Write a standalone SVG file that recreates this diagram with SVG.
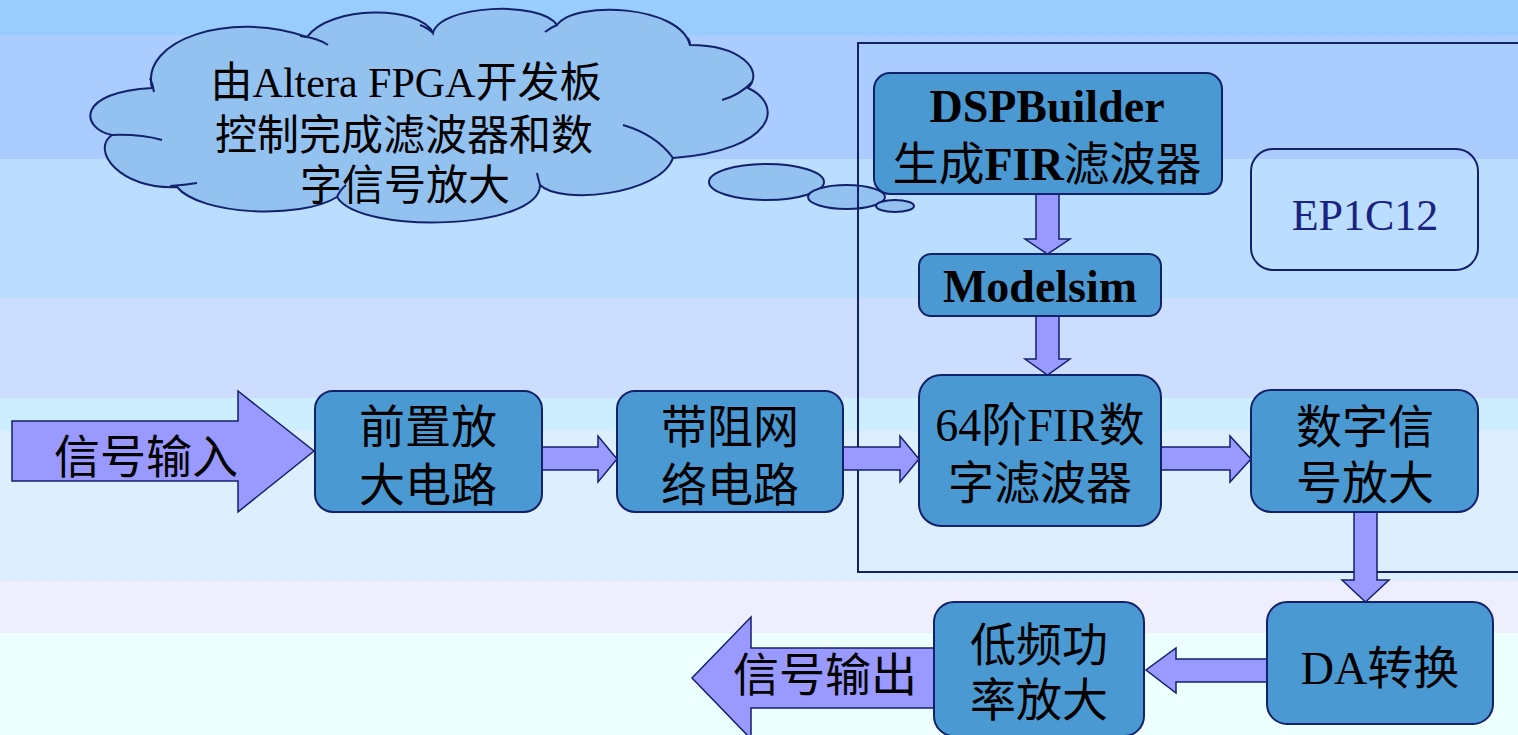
<svg xmlns="http://www.w3.org/2000/svg" width="1518" height="735" viewBox="0 0 1518 735">
<style>
.box{fill:#4b99d2;stroke:#13216b;stroke-width:2}
.arr{fill:#9999ff;stroke:#13216b;stroke-width:1.5;stroke-linejoin:miter}
.t{font-family:"Liberation Serif","Noto Sans CJK SC",serif;font-size:46px;fill:#000;text-anchor:middle}
.ct{font-family:"Liberation Serif","Noto Sans CJK SC",serif;font-size:42px;fill:#000;text-anchor:middle}
.b{font-weight:bold}
.cloud{fill:#93c2f0;stroke:#13216b;stroke-width:2}
.crease{fill:none;stroke:#13216b;stroke-width:2}
</style>
<g id="background">
<rect x="0" y="0" width="1518" height="35" fill="#99ccff"/>
<rect x="0" y="35" width="1518" height="124" fill="#aaccff"/>
<rect x="0" y="159" width="1518" height="139" fill="#bbddff"/>
<rect x="0" y="298" width="1518" height="100" fill="#ccddff"/>
<rect x="0" y="398" width="1518" height="33" fill="#cceeff"/>
<rect x="0" y="431" width="1518" height="150" fill="#ddeeff"/>
<rect x="0" y="581" width="1518" height="52" fill="#eeeeff"/>
<rect x="0" y="633" width="1518" height="102" fill="#eeffff"/>
</g>
<g id="cloud">
<path class="cloud" d="M112,135 C80,128 76,92 152,88 C140,40 230,10 307,37 C330,5 420,5 433,33 C440,5 540,0 557,25 C575,0 680,5 690,45 C740,45 765,70 748,88 C785,105 775,150 673,158 C660,195 560,205 540,185 C540,230 360,235 337,197 C300,220 200,215 177,187 C120,190 90,150 112,135 Z"/>
<path class="crease" d="M150,78 Q153,85 154,92"/>
<path class="crease" d="M300,36 Q318,38 328,45"/>
<path class="crease" d="M112,135 Q140,134 162,140"/>
<path class="crease" d="M170,186 Q185,185 197,183"/>
<path class="crease" d="M337,197 Q340,190 346,185"/>
<path class="crease" d="M540,185 Q538,178 537,173"/>
<path class="crease" d="M673,158 C660,140 640,130 623,125"/>
<path class="crease" d="M752,82 Q740,95 722,100"/>
<path class="crease" d="M420,25 Q428,28 433,33"/>
<path class="crease" d="M545,32 Q550,28 557,25"/>
<path class="crease" d="M688,38 Q690,41 690,45"/>
<text class="ct" x="406" y="97">由Altera FPGA开发板</text>
<text class="ct" x="404" y="150">控制完成滤波器和数</text>
<text class="ct" x="405" y="200">字信号放大</text>
<ellipse class="cloud" cx="766.5" cy="182" rx="57.5" ry="18"/>
<ellipse class="cloud" cx="846.5" cy="197" rx="38.5" ry="12"/>
<ellipse class="cloud" cx="895" cy="206" rx="19" ry="6"/>
</g>
<g id="frame">
<rect x="858" y="43" width="700" height="529" fill="none" stroke="#13216b" stroke-width="2"/>
</g>
<g id="connectors">
<polygon class="arr" points="542,447 598,447 598,436 617,459 598,482 598,470 542,470"/>
<polygon class="arr" points="843,447 900,447 900,436 919,459 900,482 900,470 843,470"/>
<polygon class="arr" points="1161,447 1230,447 1230,436 1251,459 1230,482 1230,470 1161,470"/>
<polygon class="arr" points="1036,194 1059,194 1059,239 1070,239 1047.5,254 1025,239 1036,239"/>
<polygon class="arr" points="1036,316 1059,316 1059,359 1070,359 1047.5,375 1025,359 1036,359"/>
<polygon class="arr" points="1354,512 1377,512 1377,580 1389,580 1365.5,602 1342,580 1354,580"/>
<polygon class="arr" points="1267,659 1176,659 1176,648 1146,670 1176,693 1176,682 1267,682"/>
</g>
<g id="input">
<polygon class="arr" points="12,421 238,421 238,391 314,451 238,512 238,481 12,481"/>
<text class="t" x="146" y="473">信号输入</text>
</g>
<g id="output">
<polygon class="arr" points="934,648 751,648 751,617 692,678 751,739 751,708 934,708"/>
<text class="t" x="825" y="691">信号输出</text>
</g>
<g id="preamp">
<rect class="box" x="315" y="391" width="227" height="121" rx="18"/>
<text class="t" x="428" y="443">前置放</text>
<text class="t" x="428" y="501">大电路</text>
</g>
<g id="bandstop">
<rect class="box" x="617" y="391" width="226" height="121" rx="18"/>
<text class="t" x="730" y="443">带阻网</text>
<text class="t" x="730" y="501">络电路</text>
</g>
<g id="dspbuilder">
<rect class="box" x="874" y="73" width="348" height="121" rx="16"/>
<text class="t b" x="1047" y="122">DSPBuilder</text>
<text class="t" x="1047" y="180">生成<tspan class="b">FIR</tspan>滤波器</text>
</g>
<g id="modelsim">
<rect class="box" x="919" y="254" width="242" height="62" rx="12"/>
<text class="t b" x="1040" y="302">Modelsim</text>
</g>
<g id="ep1c12">
<rect x="1251" y="149" width="227" height="121" rx="22" fill="none" stroke="#13216b" stroke-width="2"/>
<text class="t" x="1365" y="230" style="fill:#1a237e;font-size:44px">EP1C12</text>
</g>
<g id="fir">
<rect class="box" x="919" y="375" width="242" height="151" rx="22"/>
<text class="t" x="1040" y="441">64阶FIR数</text>
<text class="t" x="1040" y="499">字滤波器</text>
</g>
<g id="digamp">
<rect class="box" x="1251" y="390" width="227" height="122" rx="20"/>
<text class="t" x="1365" y="443">数字信</text>
<text class="t" x="1365" y="499">号放大</text>
</g>
<g id="da">
<rect class="box" x="1267" y="602" width="226" height="122" rx="20"/>
<text class="t" x="1380" y="684">DA转换</text>
</g>
<g id="lfamp">
<rect class="box" x="934" y="602" width="210" height="134" rx="20"/>
<text class="t" x="1039" y="661">低频功</text>
<text class="t" x="1039" y="716">率放大</text>
</g>
</svg>
